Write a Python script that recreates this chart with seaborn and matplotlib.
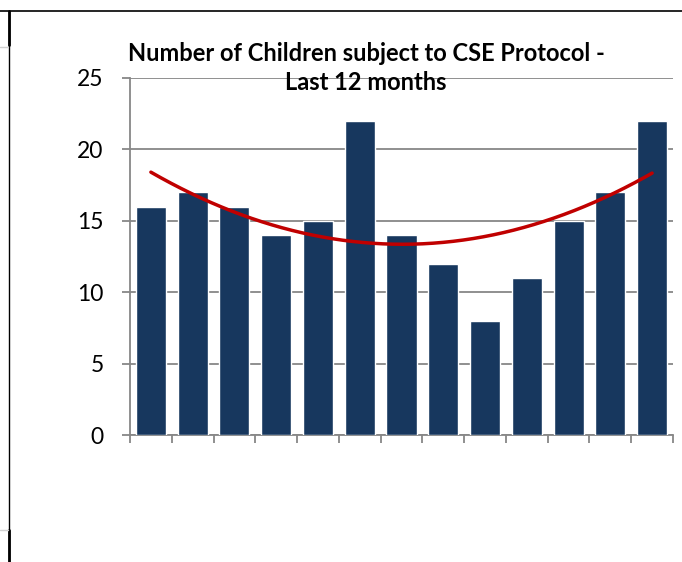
import numpy as np
import pandas as pd
import seaborn as sns
import matplotlib.pyplot as plt
from matplotlib.lines import Line2D

months = ["M1", "M2", "M3", "M4", "M5", "M6", "M7", "M8", "M9", "M10", "M11", "M12", "M13"]
children = [16, 17, 16, 14, 15, 22, 14, 12, 8, 11, 15, 17, 22]
y_ticks = [0, 5, 10, 15, 20, 25]
title_text = "Number of Children subject to CSE Protocol -\nLast 12 months"

sns.set_theme(style="white")
plt.rcParams['font.family'] = ['Lato', 'DejaVu Sans']

df = pd.DataFrame({"month": months, "children": children})

fig = plt.figure(figsize=(6.82, 5.62), dpi=100)
W, H = 682, 562
ax = fig.add_axes([130 / W, 1 - 435 / H, (673 - 130) / W, (435 - 78) / H])

sns.barplot(data=df, x="month", y="children", color="#17375E", width=0.72,
            saturation=1, ax=ax, zorder=3)

# quadratic trend line (as Excel polynomial trendline)
xs = np.arange(len(children))
coef = np.polyfit(xs, children, 2)
xf = np.linspace(0, len(children) - 1, 200)
ax.plot(xf, np.polyval(coef, xf), color="#C00000", lw=2.5, zorder=4)

ax.set_xlim(-0.5, len(children) - 0.5)
ax.set_ylim(0, 25)
ax.set_yticks(y_ticks)
ax.set_yticklabels([str(t) for t in y_ticks], fontsize=16.5, color="black")
ax.set_xticks(np.arange(-0.5, len(children) + 0.5, 1))
ax.set_xticklabels([])
ax.set_xlabel("")
ax.set_ylabel("")
ax.yaxis.grid(True, color="#878787", lw=1.3, zorder=0)
ax.set_axisbelow(True)
for s in ["top", "right"]:
    ax.spines[s].set_visible(False)
for s in ["left", "bottom"]:
    ax.spines[s].set_color("#878787")
    ax.spines[s].set_linewidth(1.3)
ax.tick_params(axis="y", which="both", left=True, length=6, width=1.3, color="#878787",
               pad=13, labelcolor="black")
ax.tick_params(axis="x", which="both", bottom=True, length=6, width=1.3, color="#878787")

fig.text(366 / W, 1 - 68 / H, title_text, ha="center", va="center", fontsize=17,
         fontweight="bold", linespacing=1.35, color="black")

# page decoration lines
fig.add_artist(Line2D([0, 1], [1 - 11 / H, 1 - 11 / H], color="black", lw=1.2,
                      transform=fig.transFigure))
fig.add_artist(Line2D([9 / W, 9 / W], [0, 1 - 11 / H], color="black", lw=1.0,
                      transform=fig.transFigure))
fig.add_artist(Line2D([9 / W, 9 / W], [1 - 45 / H, 1 - 11 / H], color="black", lw=2.0,
                      transform=fig.transFigure))
fig.add_artist(Line2D([9 / W, 9 / W], [0, 1 - 530 / H], color="black", lw=2.0,
                      transform=fig.transFigure))
fig.add_artist(Line2D([0, 8 / W], [1 - 47 / H, 1 - 47 / H], color="#D0D0D0", lw=1.0,
                      transform=fig.transFigure))
fig.add_artist(Line2D([0, 8 / W], [1 - 530 / H, 1 - 530 / H], color="#D0D0D0", lw=1.0,
                      transform=fig.transFigure))

fig.savefig("out.png", dpi=100)
